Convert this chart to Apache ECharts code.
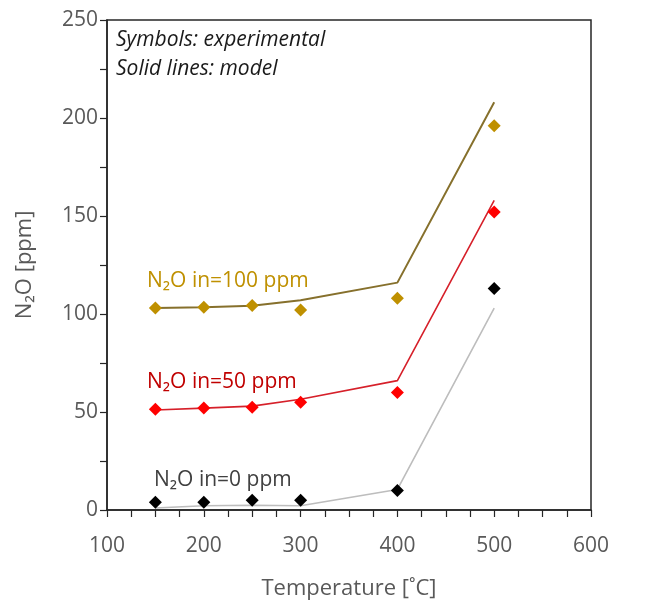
<!DOCTYPE html>
<html>
<head>
<meta charset="utf-8">
<script src="https://cdn.jsdelivr.net/npm/echarts@6/dist/echarts.min.js"></script>
<style>
  html, body { margin: 0; padding: 0; background: #fff; }
  #chart { width: 664px; height: 605px; }
</style>
</head>
<body>
<div id="chart"></div>
<script>
// Temperatures of the measurements [°C]
var temperatures = [150, 200, 250, 300, 400, 500];

// Experimental N2O outlet concentrations [ppm]
var exp100 = [103, 103.4, 104.4, 102, 108, 196];
var exp50  = [51.4, 52, 52.4, 55, 60, 152];
var exp0   = [4, 4, 5, 5, 10, 113];

// Model predictions [ppm]
var model100 = [103, 103.5, 104.2, 107, 116, 208];
var model50  = [51, 52, 53, 56.5, 66, 158];
var model0   = [1, 2.2, 2.4, 2.2, 10.5, 103];

var xTicks = [100, 200, 300, 400, 500, 600];
var yTicks = [0, 50, 100, 150, 200, 250];

function pairs(xs, ys) {
  return xs.map(function (x, i) { return [x, ys[i]]; });
}

var FONT = '"Open Sans", "DejaVu Sans", sans-serif';
var AXIS_COLOR = '#262626';
var LABEL_COLOR = '#595959';

var chart = echarts.init(document.getElementById('chart'), null, { renderer: 'canvas' });

function lineSeries(name, data, color, width) {
  return {
    name: name, type: 'line', data: pairs(temperatures, data),
    showSymbol: false, symbol: 'none',
    lineStyle: { color: color, width: width },
    z: 2, animation: false
  };
}
function pointSeries(name, data, color) {
  return {
    name: name, type: 'scatter', data: pairs(temperatures, data),
    symbol: 'diamond', symbolSize: [13, 13],
    itemStyle: { color: color, opacity: 1 },
    z: 3, animation: false
  };
}

// Inlet-concentration caption next to each curve
function label(text, color, left, top) {
  return {
    type: 'text', left: left, top: top,
    style: { text: text, font: '21px ' + FONT, fill: color }
  };
}

chart.setOption({
  animation: false,
  grid: {
    left: 107, right: 73, top: 20, bottom: 94,
    show: true, borderColor: AXIS_COLOR, borderWidth: 1.5,
    backgroundColor: 'transparent'
  },
  xAxis: {
    type: 'value', min: 100, max: 600, interval: 100,
    name: 'Temperature [˚C]', nameLocation: 'middle', nameGap: 68,
    nameTextStyle: { fontFamily: FONT, fontSize: 22, color: LABEL_COLOR },
    axisLine: { show: true, lineStyle: { color: AXIS_COLOR, width: 1.5 } },
    axisTick: { show: true, inside: false, length: 7, lineStyle: { color: AXIS_COLOR, width: 1.2 } },
    minorTick: { show: true, splitNumber: 4, length: 7, lineStyle: { color: AXIS_COLOR, width: 1.2 } },
    splitLine: { show: false },
    axisLabel: {
      margin: 26, fontFamily: FONT, fontSize: 21, color: LABEL_COLOR,
      customValues: xTicks
    }
  },
  yAxis: {
    type: 'value', min: 0, max: 250, interval: 50,
    name: 'N₂O [ppm]', nameLocation: 'middle', nameGap: 71,
    nameRotate: 90,
    nameTextStyle: { fontFamily: FONT, fontSize: 22, color: LABEL_COLOR },
    axisLine: { show: true, lineStyle: { color: AXIS_COLOR, width: 1.5 } },
    axisTick: { show: true, inside: false, length: 7, lineStyle: { color: AXIS_COLOR, width: 1.2 } },
    minorTick: { show: true, splitNumber: 2, length: 7, lineStyle: { color: AXIS_COLOR, width: 1.2 } },
    splitLine: { show: false },
    axisLabel: {
      margin: 9, fontFamily: FONT, fontSize: 21, color: LABEL_COLOR,
      customValues: yTicks
    }
  },
  series: [
    lineSeries('model 100', model100, '#86702c', 2),
    lineSeries('model 50', model50, '#d6202a', 1.6),
    lineSeries('model 0', model0, '#bdbdbd', 1.6),
    pointSeries('exp 100', exp100, '#bf9000'),
    pointSeries('exp 50', exp50, '#ff0000'),
    pointSeries('exp 0', exp0, '#000000')
  ],
  graphic: [
    {
      type: 'text', left: 116, top: 30,
      style: { text: 'Symbols: experimental', font: 'italic 21px ' + FONT, fill: '#1a1a1a' }
    },
    {
      type: 'text', left: 116, top: 59,
      style: { text: 'Solid lines: model', font: 'italic 21px ' + FONT, fill: '#1a1a1a' }
    },
    label('N₂O in=100 ppm', '#bf9000', 147, 271),
    label('N₂O in=50 ppm', '#c00000', 147, 372),
    label('N₂O in=0 ppm', '#404040', 154, 470)
  ]
});
</script>
</body>
</html>
